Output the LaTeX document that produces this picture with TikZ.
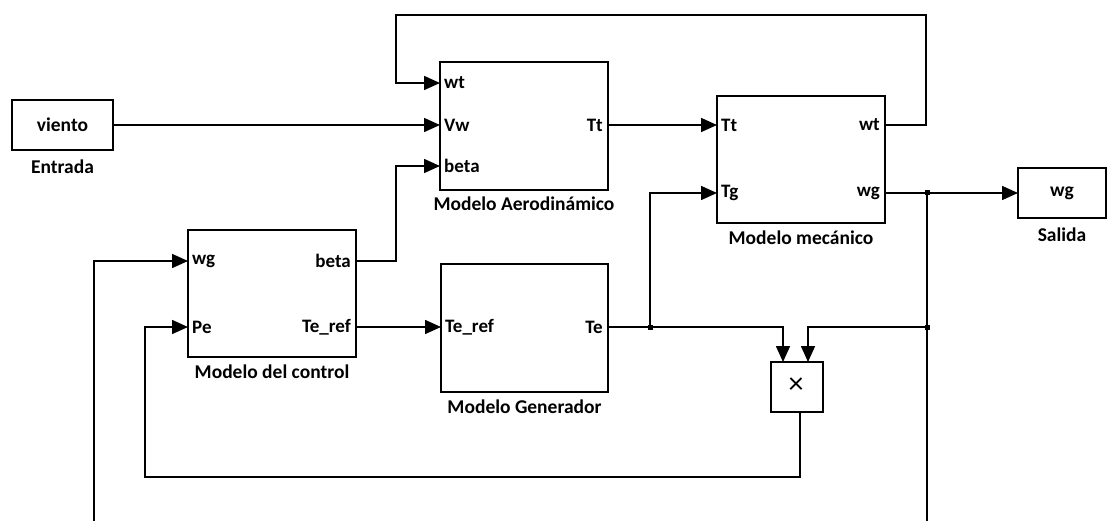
\documentclass[tikz,border=0pt]{standalone}
\usepackage{fontspec}
\setmainfont{Carlito}
\usetikzlibrary{arrows.meta}
\tikzset{
  blk/.style={draw, line width=1.6pt, inner sep=0pt, fill=white},
  lbl/.style={font=\fontsize{19.5}{21}\selectfont\bfseries, inner sep=0pt},
  port/.style={font=\fontsize{19}{21}\selectfont\bfseries, inner sep=0pt},
  wire/.style={line width=1.6pt},
  sig/.style={wire, -{Triangle[length=16pt,width=14pt]}},
  junc/.style={fill, inner sep=0pt, minimum size=5pt, rectangle}
}
\begin{document}
\begin{tikzpicture}[x=1pt,y=-1pt]
\useasboundingbox (0,0) rectangle (1108,521);

% blocks
\node[blk, minimum width=101pt, minimum height=50pt] (viento) at (62.5,125) {};
\node[lbl] at (62.5,125) {viento};
\node[lbl] (entrada) at (62.5,167) {Entrada};

\node[blk, minimum width=168pt, minimum height=128pt] (aero) at (524,126) {};
\node[lbl] (aerolbl) at (524,204) {Modelo Aerodinámico};

\node[blk, minimum width=168pt, minimum height=127pt] (mech) at (801,159.5) {};
\node[lbl] (mechlbl) at (801,238) {Modelo mecánico};

\node[blk, minimum width=88pt, minimum height=50pt] (salida) at (1062,193) {};
\node[lbl] at (1062,193) {wg};
\node[lbl] (salidalbl) at (1062,235) {Salida};

\node[blk, minimum width=168pt, minimum height=127pt] (ctrl) at (272,293.5) {};
\node[lbl] (ctrllbl) at (272,372) {Modelo del control};

\node[blk, minimum width=167pt, minimum height=128pt] (gen) at (524.5,328) {};
\node[lbl] (genlbl) at (524.5,407) {Modelo Generador};

\node[blk, minimum width=52pt, minimum height=50pt] (mult) at (797,387) {};
\node[font=\fontsize{30}{30}\selectfont, inner sep=0pt] at (796,386) {×};

% port coordinates
\coordinate (aWt) at (440,83);
\coordinate (aVw) at (440,125);
\coordinate (aBeta) at (440,166);
\coordinate (aTt) at (608,125);
\coordinate (mTt) at (717,125);
\coordinate (mTg) at (717,193);
\coordinate (mWt) at (885,125);
\coordinate (mWg) at (885,193);
\coordinate (cWg) at (188,261);
\coordinate (cPe) at (188,327);
\coordinate (cBeta) at (356,261);
\coordinate (cTe) at (356,327);
\coordinate (gTe) at (441,327);
\coordinate (gOut) at (608,327);
\coordinate (xIn1) at (783,362);
\coordinate (xIn2) at (808,362);
\coordinate (xOut) at (800,412);
\coordinate (vOut) at (113,125);
\coordinate (sIn) at (1018,193);

% port labels
\node[port, anchor=west] at ([xshift=4pt]aWt) {wt};
\node[port, anchor=west] at ([xshift=4pt]aVw) {Vw};
\node[port, anchor=west] at ([xshift=4pt]aBeta) {beta};
\node[port, anchor=east] at ([xshift=-5pt]aTt) {Tt};
\node[port, anchor=west] at ([xshift=4pt]mTt) {Tt};
\node[port, anchor=west] at ([xshift=4pt]mTg) {Tg};
\node[port, anchor=east] at ([xshift=-5pt]mWt) {wt};
\node[port, anchor=east] at ([xshift=-5pt]mWg) {wg};
\node[port, anchor=west] at ([xshift=4pt]cWg) {wg};
\node[port, anchor=west] at ([xshift=4pt]cPe) {Pe};
\node[port, anchor=east] at ([xshift=-5pt]cBeta) {beta};
\node[port, anchor=east] at ([xshift=-5pt]cTe) {Te\_ref};
\node[port, anchor=west] at ([xshift=4pt]gTe) {Te\_ref};
\node[port, anchor=east] at ([xshift=-5pt]gOut) {Te};

% branch points and free ends
\node[junc] (j1) at (650,327) {};
\node[junc] (j2) at (927,193) {};
\node[junc] (j3) at (927,327) {};
\coordinate (endR) at (927,521);
\coordinate (endL) at (94,521);

% signals
\draw[sig] (vOut) -- (aVw);
\draw[sig] (aTt) -- (mTt);
\draw[sig] (mWt) -- (926,125) -- (926,15) -- (396,15) -- (396,83) -- (aWt);
\draw[sig] (mWg) -- (sIn);
\draw[wire] (j2.center) -- (endR);
\draw[sig] (j3.center) -- (808,327) -- (xIn2);
\draw[sig] (gOut) -- (783,327) -- (xIn1);
\draw[sig] (j1.center) -- (650,193) -- (mTg);
\draw[sig] (cBeta) -- (396,261) -- (396,166) -- (aBeta);
\draw[sig] (cTe) -- (gTe);
\draw[sig] (xOut) -- (800,477) -- (145,477) -- (145,327) -- (cPe);
\draw[sig] (endL) -- (94,261) -- (cWg);
\end{tikzpicture}
\end{document}
